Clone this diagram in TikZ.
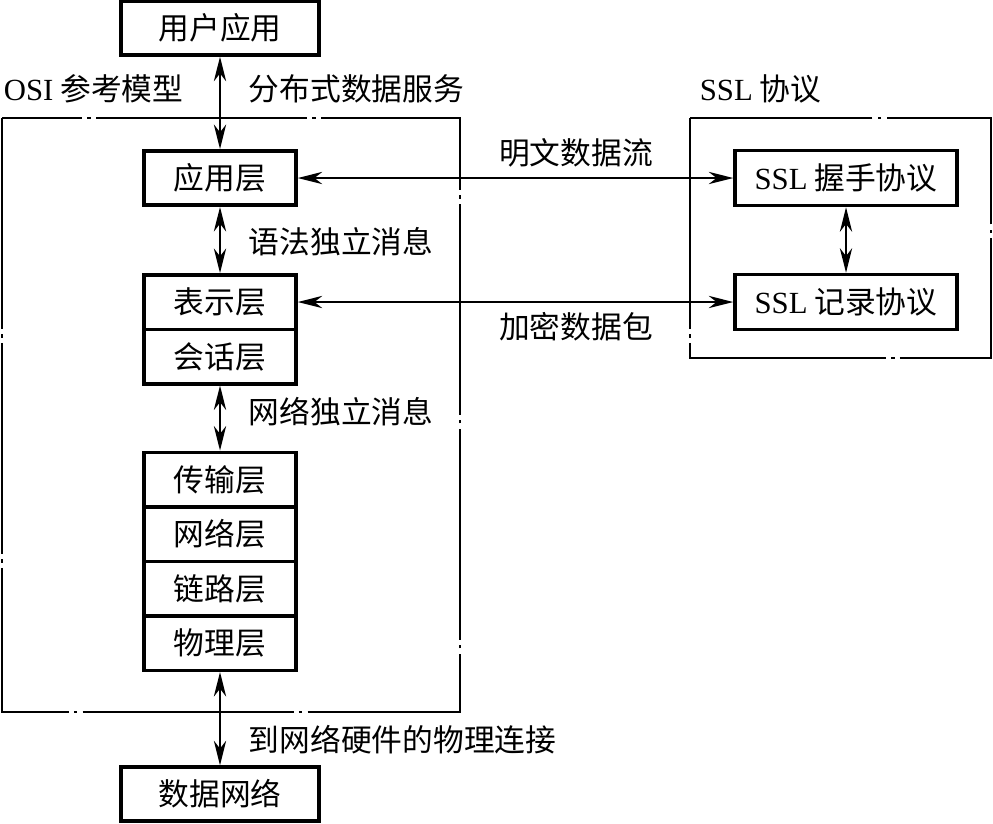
\documentclass[tikz,border=0pt]{standalone}
\usepackage{fontspec}
\setmainfont{Liberation Serif}
\newfontfamily\cjk{Noto Sans CJK SC}
\usetikzlibrary{arrows.meta}

\begin{document}
\begin{tikzpicture}[x=0.02cm, y=-0.02cm,
    every node/.style={font=\cjk\fontsize{17.5}{21}\selectfont},
    layerbox/.style={draw, line width=2pt, minimum width=3.04cm, minimum height=1.09cm, inner sep=0pt},
    endbox/.style={draw, line width=2pt, minimum width=3.96cm, minimum height=1.08cm, inner sep=0pt},
    sslbox/.style={draw, line width=2pt, minimum width=4.44cm, minimum height=1.1cm, inner sep=0pt},
    frameline/.style={line width=1pt, dash pattern=on 120pt off 3pt on 2pt off 3pt},
    link/.style={line width=0.9pt, {Stealth[length=14pt,width=7pt,inset=4.5pt]}-{Stealth[length=14pt,width=7pt,inset=4.5pt]}},
    lbl/.style={inner sep=2pt}]
  \useasboundingbox (0,0) rectangle (993,823);

  % frames
  \draw[frameline] (2,118) rectangle (460,712);
  \draw[frameline] (690,118) rectangle (991,358);

  % frame titles
  \node[lbl, anchor=west] (osilbl) at (0,89) {{\rmfamily OSI} 参考模型};
  \node[lbl, anchor=west] (sslttl) at (696,89) {{\rmfamily SSL} 协议};

  % end boxes
  \node[endbox] (user) at (220,28) {用户应用};
  \node[endbox] (datanet) at (220,794) {数据网络};

  % OSI layers
  \node[layerbox] (app) at (220,178) {应用层};
  \node[layerbox] (pres) at (220,302) {表示层};
  \node[layerbox] (sess) at (220,356.5) {会话层};
  \node[layerbox] (trans) at (220,479.5) {传输层};
  \node[layerbox] (net) at (220,534) {网络层};
  \node[layerbox] (dlink) at (220,588.5) {链路层};
  \node[layerbox] (phys) at (220,643) {物理层};

  % SSL protocols
  \node[sslbox] (hs) at (846,178) {{\rmfamily SSL} 握手协议};
  \node[sslbox] (rec) at (846,302) {{\rmfamily SSL} 记录协议};

  % connectors
  \draw[link] (user) -- (app);
  \draw[link] (app) -- (pres);
  \draw[link] (sess) -- (trans);
  \draw[link] (phys) -- (datanet);
  \draw[link] (app) -- (hs);
  \draw[link] (pres) -- (rec);
  \draw[link] (hs) -- (rec);

  % connector labels
  \node[lbl, anchor=west] (dslbl) at (245,89) {分布式数据服务};
  \node[lbl, anchor=west] (synlbl) at (245,242) {语法独立消息};
  \node[lbl, anchor=west] (netlbl) at (245,412) {网络独立消息};
  \node[lbl, anchor=west] (hwlbl) at (245,740) {到网络硬件的物理连接};
  \node[lbl] (plainlbl) at (576,153) {明文数据流};
  \node[lbl] (encrlbl) at (576,327) {加密数据包};
\end{tikzpicture}
\end{document}
